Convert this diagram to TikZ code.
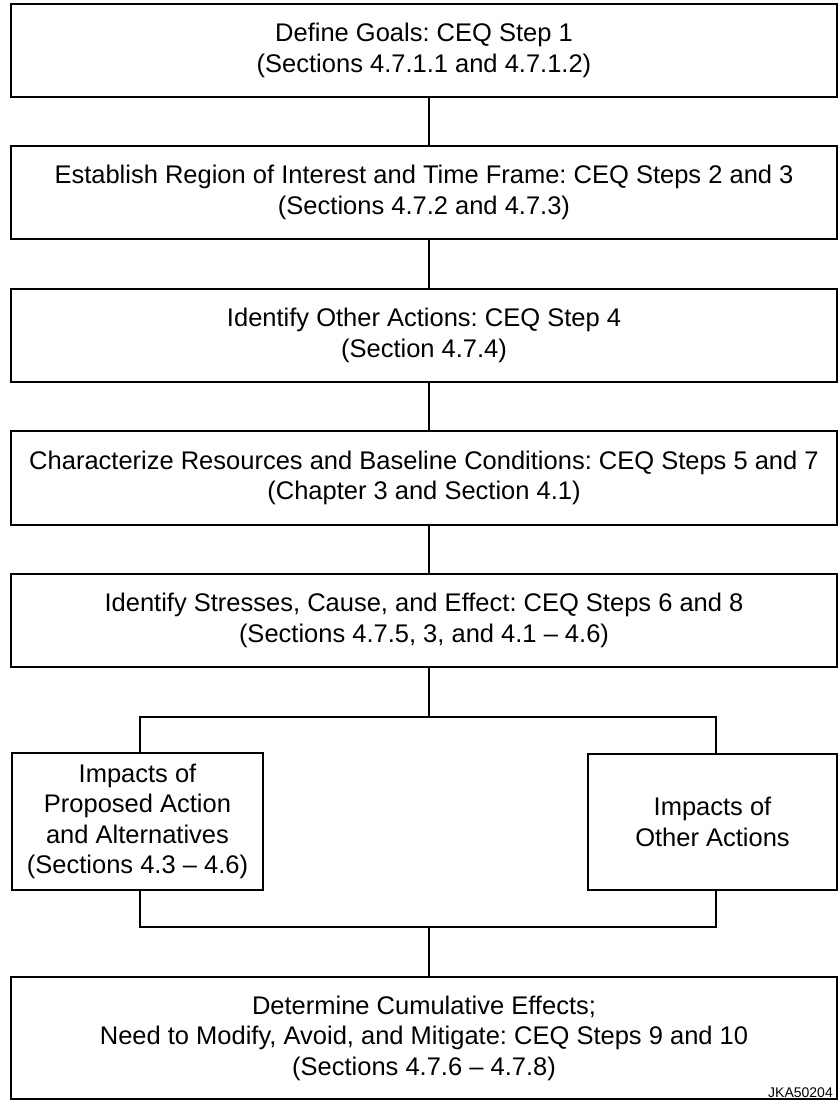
\documentclass[tikz,border=0pt]{standalone}
\usepackage{fontspec}
\setmainfont{Liberation Sans}
\frenchspacing
\begin{document}
\begin{tikzpicture}[x=1pt,y=-1pt,
  box/.style={draw=black, line width=2pt, rectangle, align=center, inner sep=0pt,
    font=\fontsize{25.5}{30.5}\selectfont},
  link/.style={draw=black, line width=1.5pt}]
\useasboundingbox (0,0) rectangle (838,1101);
\node[box, minimum width=826pt, minimum height=93pt] (b1) at (424,50.5)
  {Define Goals: CEQ Step 1\\(Sections 4.7.1.1 and 4.7.1.2)};
\node[box, minimum width=826pt, minimum height=93pt] (b2) at (424,192.5)
  {Establish Region of Interest and Time Frame: CEQ Steps 2 and 3\\(Sections 4.7.2 and 4.7.3)};
\node[box, minimum width=826pt, minimum height=93pt] (b3) at (424,335.5)
  {Identify Other Actions: CEQ Step 4\\(Section 4.7.4)};
\node[box, minimum width=826pt, minimum height=94pt] (b4) at (424,478)
  {Characterize Resources and Baseline Conditions: CEQ Steps 5 and 7\\(Chapter 3 and Section 4.1)};
\node[box, minimum width=826pt, minimum height=93pt] (b5) at (424,620.5)
  {Identify Stresses, Cause, and Effect: CEQ Steps 6 and 8\\(Sections 4.7.5, 3, and 4.1 – 4.6)};
\node[box, minimum width=251pt, minimum height=137pt] (L) at (137.5,821.5)
  {Impacts of\\Proposed Action\\and Alternatives\\(Sections 4.3 – 4.6)};
\node[box, minimum width=249pt, minimum height=136pt] (R) at (712.5,822)
  {Impacts of\\Other Actions};
\node[box, minimum width=826pt, minimum height=122pt] (b6) at (424,1038)
  {Determine Cumulative Effects;\\Need to Modify, Avoid, and Mitigate: CEQ Steps 9 and 10\\(Sections 4.7.6 – 4.7.8)};
\node[anchor=base east, inner sep=0pt, font=\fontsize{14}{16}\selectfont] (id) at (833,1097) {JKA50204};
\coordinate (trunk) at (429,0);
\coordinate (lx) at (140,0);
\coordinate (rx) at (716,0);
\coordinate (split) at (429,717);
\coordinate (join) at (429,927);
\draw[link] (b1.south -| trunk) -- (b2.north -| trunk);
\draw[link] (b2.south -| trunk) -- (b3.north -| trunk);
\draw[link] (b3.south -| trunk) -- (b4.north -| trunk);
\draw[link] (b4.south -| trunk) -- (b5.north -| trunk);
\draw[link] (b5.south -| trunk) -- (split);
\draw[link] (L.north -| lx) -- (lx |- split) -- (rx |- split) -- (R.north -| rx);
\draw[link] (L.south -| lx) -- (lx |- join) -- (rx |- join) -- (R.south -| rx);
\draw[link] (join) -- (b6.north -| trunk);
\end{tikzpicture}
\end{document}
